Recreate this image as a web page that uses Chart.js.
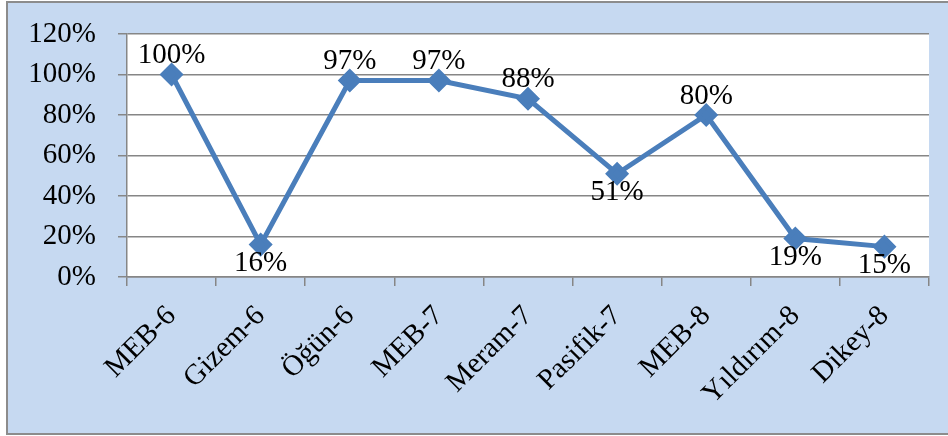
<!DOCTYPE html>
<html>
<head>
<meta charset="utf-8">
<script src="https://cdn.jsdelivr.net/npm/chart.js@4/dist/chart.umd.min.js"></script>
<style>
  html, body { margin: 0; padding: 0; background: #fff; }
  canvas { display: block; }
</style>
</head>
<body>
<canvas id="chart" width="948" height="436"></canvas>
<script>
// kategoriler ve yüzdeler
const categories = ["MEB-6", "Gizem-6", "Öğün-6", "MEB-7", "Meram-7", "Pasifik-7", "MEB-8", "Yıldırım-8", "Dikey-8"];
const values = [100, 16, 97, 97, 88, 51, 80, 19, 15];
const yTicks = [0, 20, 40, 60, 80, 100, 120];

const FONT = "'Liberation Serif', 'Times New Roman', serif";
const labelSide = ["up", "down", "up", "up", "up", "down", "up", "down", "down"];

const backgroundPlugin = {
  id: "bg",
  beforeDraw(chart) {
    const ctx = chart.ctx;
    const a = chart.chartArea;
    ctx.save();
    ctx.fillStyle = "#ffffff";
    ctx.fillRect(0, 0, chart.width, chart.height);
    ctx.fillStyle = "#c6d9f1";
    ctx.fillRect(7, 2, chart.width, chart.height - 4);
    ctx.strokeStyle = "#8c8c8c";
    ctx.lineWidth = 2;
    ctx.strokeRect(7, 2, chart.width, chart.height - 4);
    ctx.fillStyle = "#ffffff";
    ctx.fillRect(a.left, a.top, a.right - a.left, a.bottom - a.top);
    ctx.restore();
  }
};

// y ekseni yazıları (scale üzerinden konumlanıyor)
const yLabelPlugin = {
  id: "yLabels",
  afterDraw(chart) {
    const ctx = chart.ctx;
    const y = chart.scales.y;
    ctx.save();
    ctx.font = "29px " + FONT;
    ctx.fillStyle = "#000";
    ctx.textAlign = "right";
    ctx.textBaseline = "middle";
    yTicks.forEach(v => {
      ctx.fillText(v + "%", chart.chartArea.left - 31, y.getPixelForValue(v));
    });
    ctx.restore();
  }
};

const labelPlugin = {
  id: "valueLabels",
  afterDatasetsDraw(chart) {
    const ctx = chart.ctx;
    const meta = chart.getDatasetMeta(0);
    ctx.save();
    ctx.font = "29px " + FONT;
    ctx.fillStyle = "#000";
    ctx.textAlign = "center";
    ctx.textBaseline = "middle";
    meta.data.forEach((pt, i) => {
      const dy = labelSide[i] === "up" ? -19 : 19;
      ctx.fillText(values[i] + "%", pt.x, pt.y + dy);
    });
    ctx.restore();
  }
};

new Chart(document.getElementById("chart"), {
  type: "line",
  data: {
    labels: categories,
    datasets: [{
      data: values,
      borderColor: "#4a7ebb",
      backgroundColor: "#4a7ebb",
      borderWidth: 5,
      pointStyle: "rectRot",
      pointRadius: 8.5,
      pointHoverRadius: 8.5,
      tension: 0
    }]
  },
  options: {
    responsive: false,
    animation: false,
    layout: { padding: { left: 0, top: 34, right: 19, bottom: 0 } },
    plugins: {
      legend: { display: false },
      tooltip: { enabled: false }
    },
    scales: {
      x: {
        offset: true,
        grid: {
          offset: true,
          drawOnChartArea: false,
          drawTicks: true,
          tickLength: 9,
          color: "#868686",
          lineWidth: 1.5
        },
        border: { color: "#868686", width: 1.5 },
        ticks: {
          color: "#000",
          font: { family: FONT, size: 29 },
          minRotation: 45,
          maxRotation: 45,
          autoSkip: false,
          padding: 13
        },
        afterFit(scale) { scale.height = 159; }
      },
      y: {
        min: 0,
        max: 120,
        afterBuildTicks(scale) { scale.ticks = yTicks.map(v => ({ value: v })); },
        grid: {
          color: "#868686",
          lineWidth: 1.5,
          tickLength: 9
        },
        border: { color: "#868686", width: 1.5 },
        ticks: { display: false },
        afterFit(scale) { scale.width = 127; }
      }
    }
  },
  plugins: [backgroundPlugin, yLabelPlugin, labelPlugin]
});
</script>
</body>
</html>
